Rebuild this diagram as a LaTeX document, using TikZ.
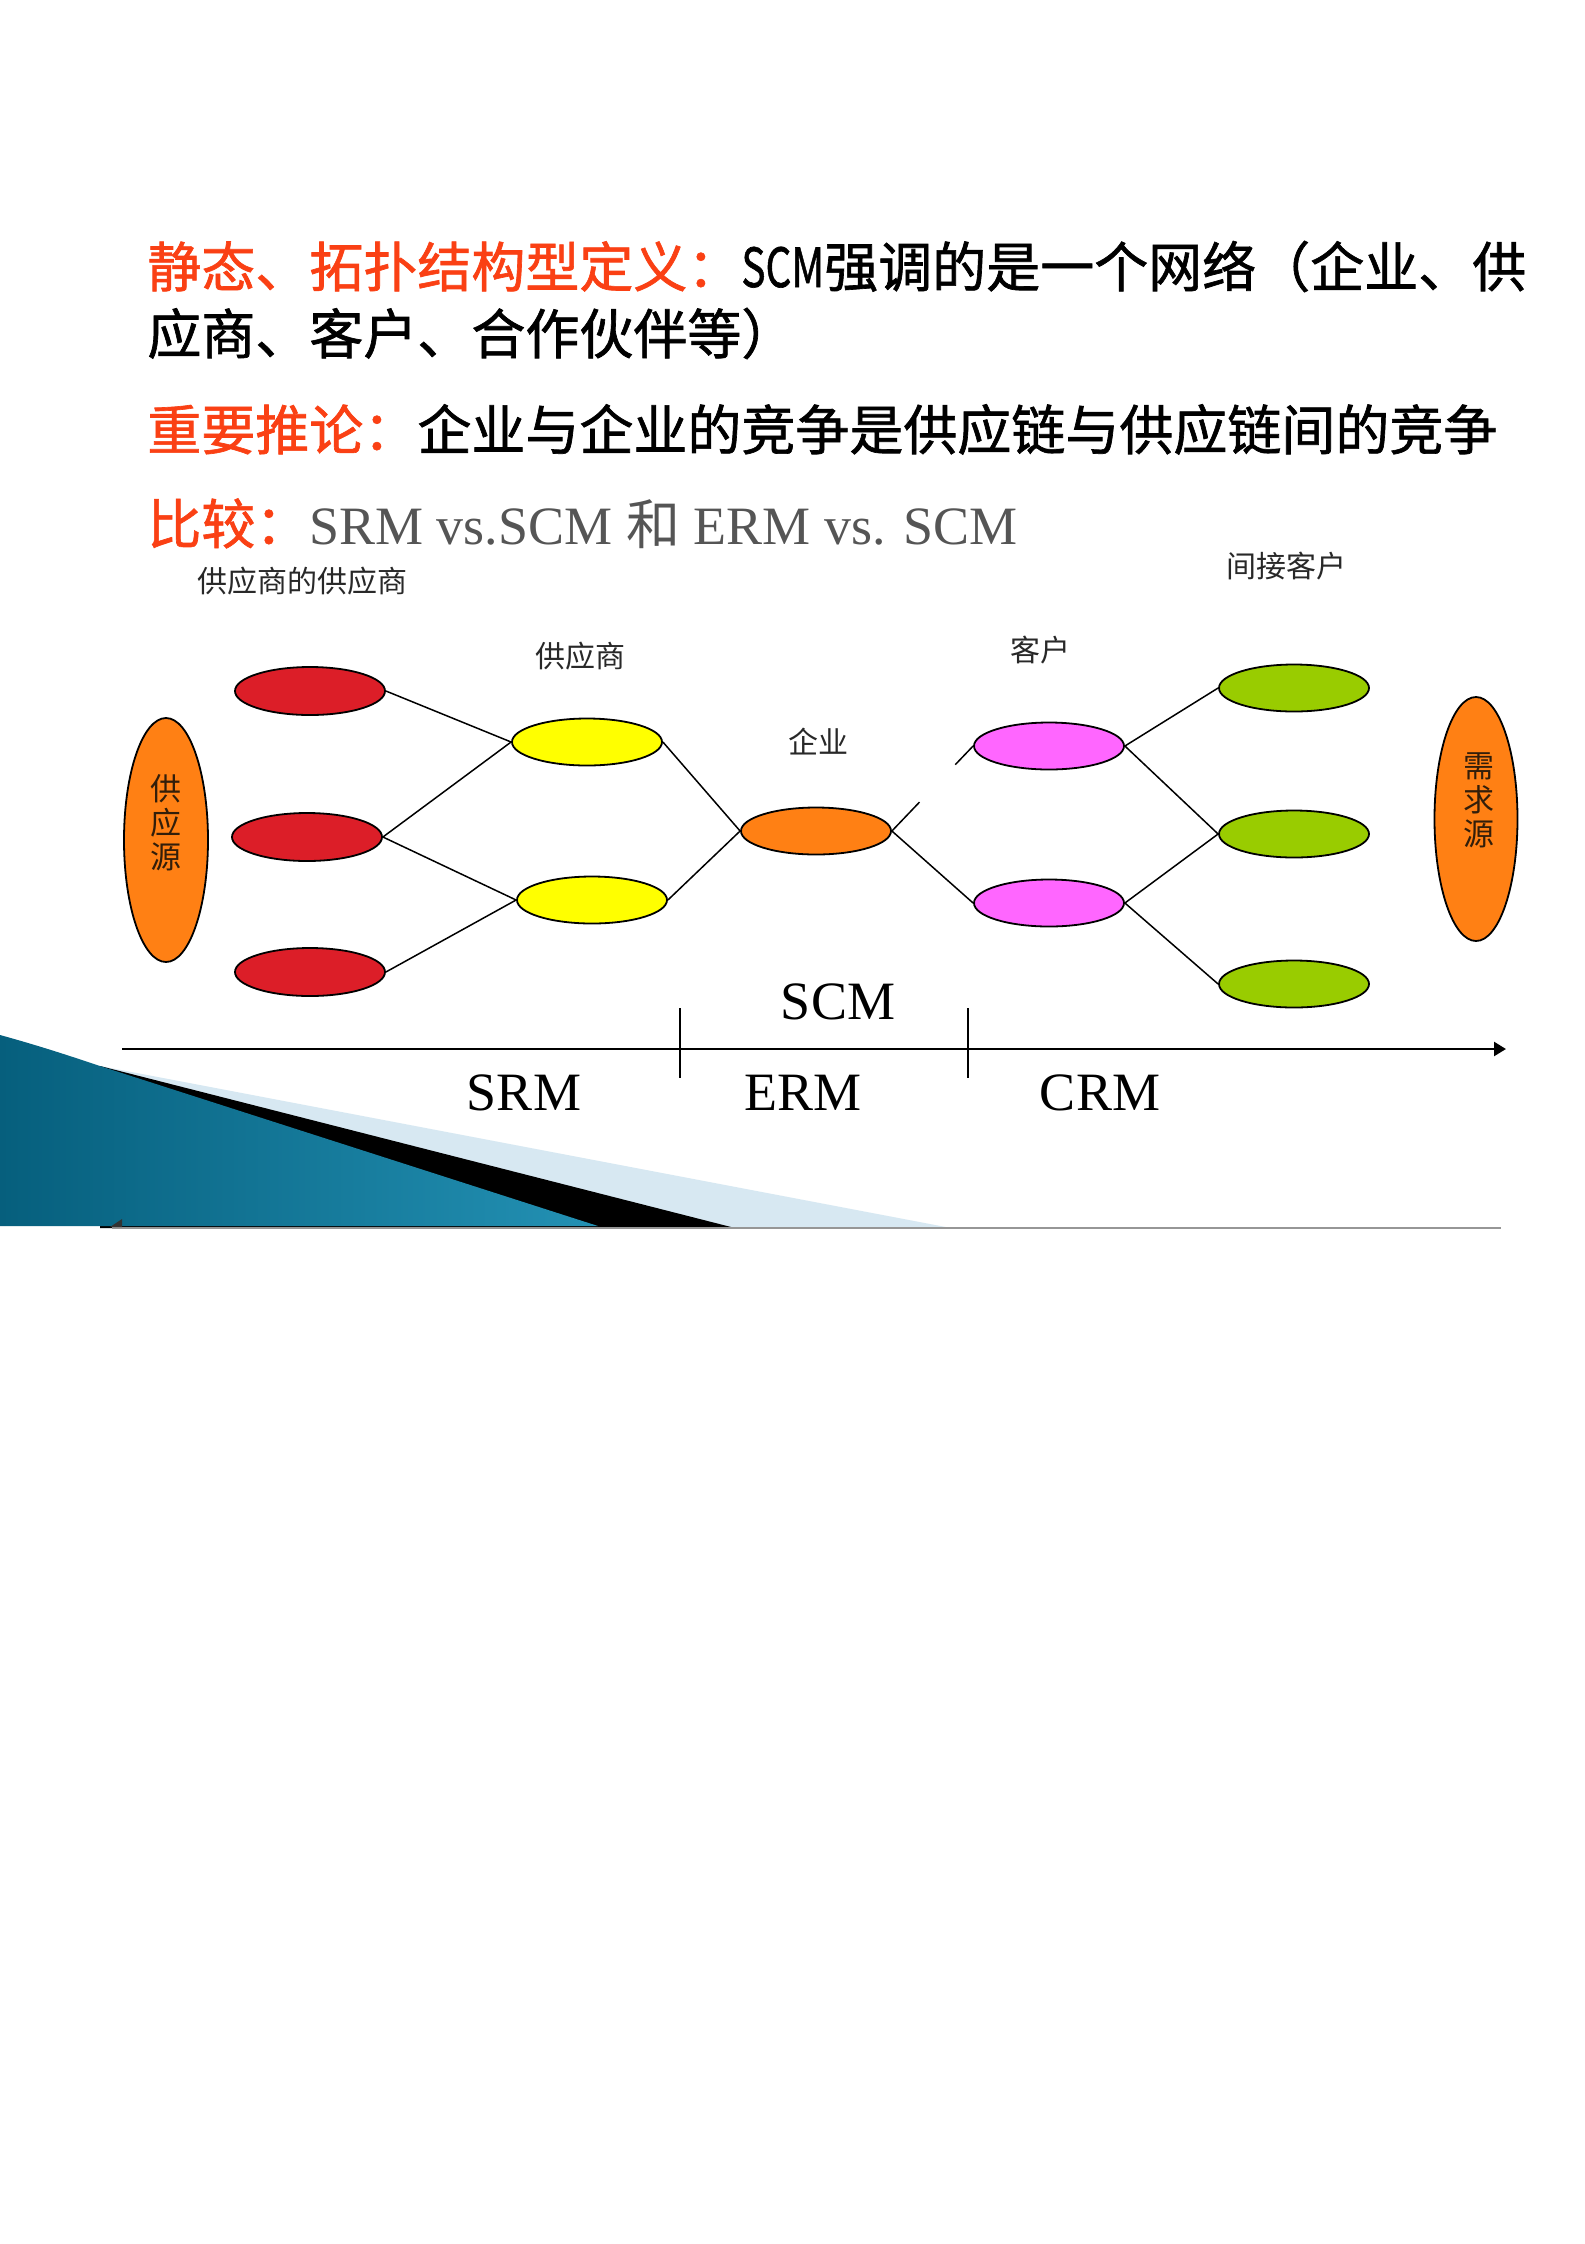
\documentclass[tikz,border=0pt]{standalone}
\usepackage{fontspec}
\usepackage{graphicx}
\setmainfont{Liberation Serif}
\newfontfamily\cjk{Noto Sans CJK SC}
\newfontfamily\cjkh[FakeBold=1.2]{Noto Sans CJK SC}
\newfontfamily\tms{Liberation Serif}
\usetikzlibrary{shapes.geometric,arrows.meta,calc}
\definecolor{hred}{RGB}{250,64,20}
\definecolor{hgray}{RGB}{85,85,85}
\definecolor{labc}{RGB}{40,40,40}
\definecolor{srcc}{RGB}{50,30,10}
\definecolor{ered}{RGB}{220,30,40}
\definecolor{eyel}{RGB}{255,255,0}
\definecolor{eora}{RGB}{255,128,20}
\definecolor{epink}{RGB}{255,102,255}
\definecolor{egreen}{RGB}{153,204,0}
\definecolor{bdark}{RGB}{6,95,125}
\definecolor{bmid}{RGB}{85,185,220}
\definecolor{bright}{RGB}{35,145,180}
\definecolor{lband}{RGB}{215,232,242}
\definecolor{gline}{RGB}{150,150,150}
\begin{document}
\begin{tikzpicture}[x=0.5pt,y=-0.5pt,
  head/.style={font=\cjkh\fontsize{27}{27}\selectfont,inner sep=0pt,anchor=base west},
  ell/.style={ellipse,draw=black,line width=0.9pt,inner sep=0pt,minimum width=75pt,minimum height=24pt},
  srcell/.style={ellipse,draw=black,line width=0.9pt,inner sep=0pt,minimum width=42pt,minimum height=122pt,fill=eora},
  conn/.style={draw=black,line width=0.75pt},
  lab/.style={font=\cjk\fontsize{15}{15}\selectfont,text=labc,inner sep=0pt},
  vlab/.style={font=\cjk\fontsize{15.5}{17}\selectfont,text=srcc,inner sep=0pt,align=center},
  axlab/.style={font=\tms\fontsize{27}{27}\selectfont,text=black,inner sep=0pt},
  axisline/.style={draw=black,line width=1.2pt},
  tickline/.style={draw=black,line width=0.6pt}]
\useasboundingbox (0,0) rectangle (1585,2244);
\fill[white] (0,0) rectangle (1585,2244);

% headings
\node[head] (h1) at (147,287) {{\color{hred}静态、拓扑结构型定义：}\scalebox{0.75}[1]{SCM}强调的是一个网络（企业、供};
\node[head] (h2) at (147,354) {应商、客户、合作伙伴等）};
\node[head] (h3) at (147,450) {{\color{hred}重要推论：}企业与企业的竞争是供应链与供应链间的竞争};
\node[head] (h4) at (147,544) {{\color{hred}比较：}{\color{hgray}{\tms\fontsize{27}{27}\selectfont SRM vs.SCM }{\cjk\fontsize{27}{27}\selectfont 和}{\tms\fontsize{27}{27}\selectfont\ ERM vs. SCM}}};

% background decoration
\fill[lband] (100,1066) -- (951,1228) -- (100,1228) -- cycle;
\fill[black] (100,1066) -- (735,1228) -- (100,1228) -- cycle;
\shade[shading=axis,left color=bdark,middle color=bmid,right color=bright]
  (0,1035) .. controls (40,1046) and (70,1056) .. (100,1066) -- (598,1226) -- (0,1226) -- cycle;
\draw[gline,line width=1.2pt] (112,1228) -- (1501,1228);
\fill[black!80] (110,1227) -- (122,1219) -- (122,1227) -- cycle;

% labels
\node[lab] (l1) at (302,581) {供应商的供应商};
\node[lab] (l2) at (580,656) {供应商};
\node[lab] (l3) at (818,742) {企业};
\node[lab] (l4) at (1040,650) {客户};
\node[lab] (l5) at (1286,566) {间接客户};

% nodes
\node[srcell] (src) at (166,840) {};
\node[vlab] (srct) at (166,823) {供\\应\\源};
\node[srcell,minimum width=41.5pt] (dem) at (1476,819) {};
\node[vlab] (demt) at (1479,800) {需\\求\\源};

\node[ell,fill=ered] (r1) at (310,691) {};
\node[ell,fill=ered] (r2) at (307,837) {};
\node[ell,fill=ered] (r3) at (310,972) {};
\node[ell,fill=eyel,minimum height=23.5pt] (y1) at (587,742) {};
\node[ell,fill=eyel,minimum height=23.5pt] (y2) at (592,900) {};
\node[ell,fill=eora,minimum height=23.5pt] (ent) at (816,831) {};
\node[ell,fill=epink,minimum height=23.5pt] (p1) at (1049,746) {};
\node[ell,fill=epink,minimum height=23.5pt] (p2) at (1049,903) {};
\node[ell,fill=egreen,minimum height=23.5pt] (g1) at (1294,688) {};
\node[ell,fill=egreen,minimum height=23.5pt] (g2) at (1294,834) {};
\node[ell,fill=egreen,minimum height=23.5pt] (g3) at (1294,984) {};

% connectors
\draw[conn] (r1.east) -- (y1.west);
\draw[conn] (r2.east) -- (y1.west);
\draw[conn] (r2.east) -- (y2.west);
\draw[conn] (r3.east) -- (y2.west);
\draw[conn] (y1.east) -- (ent.west);
\draw[conn] (y2.east) -- (ent.west);
\draw[conn] (ent.east) -- ($(ent.east)!0.34!(p1.west)$);
\draw[conn] ($(ent.east)!0.78!(p1.west)$) -- (p1.west);
\draw[conn] (ent.east) -- (p2.west);
\draw[conn] (p1.east) -- (g1.west);
\draw[conn] (p1.east) -- (g2.west);
\draw[conn] (p2.east) -- (g2.west);
\draw[conn] (p2.east) -- (g3.west);

% axis
\coordinate (ax0) at (122,1049);
\coordinate (ax1) at (1506,1049);
\draw[axisline,-{Triangle[length=6pt,width=7pt]}] (ax0) -- (ax1);
\coordinate (t1a) at (680,1008);
\coordinate (t1b) at (680,1078);
\coordinate (t2a) at (968,1008);
\coordinate (t2b) at (968,1078);
\draw[tickline] (t1a) -- (t1b);
\draw[tickline] (t2a) -- (t2b);
\node[axlab] (scm) at (838,1002) {SCM};
\node[axlab] (srm) at (524,1093) {SRM};
\node[axlab] (erm) at (803,1093) {ERM};
\node[axlab] (crm) at (1100,1093) {CRM};
\end{tikzpicture}
\end{document}
